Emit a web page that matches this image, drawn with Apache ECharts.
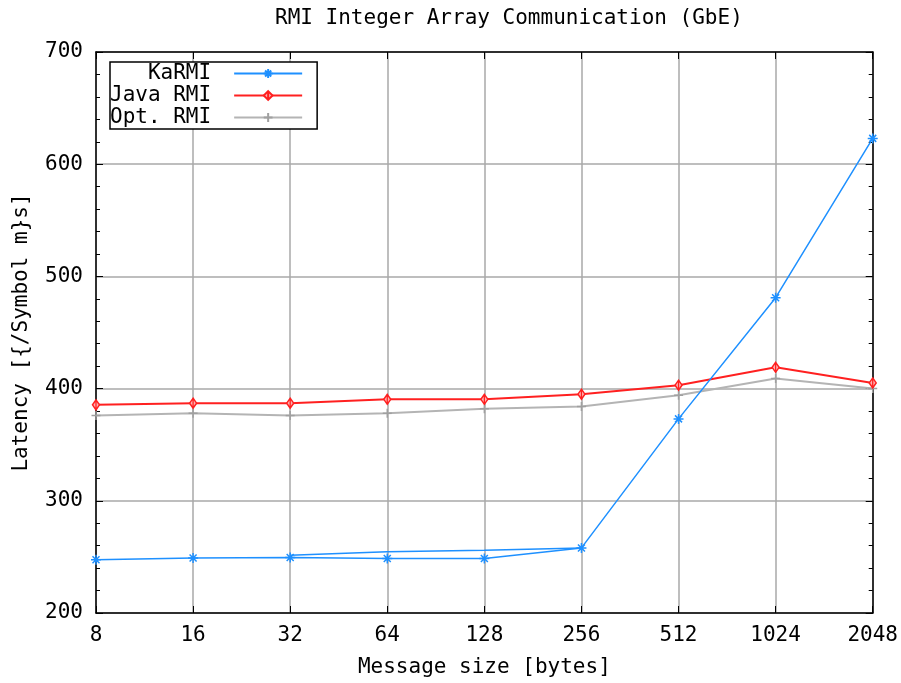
<!DOCTYPE html>
<html>
<head>
<meta charset="utf-8">
<script src="https://cdn.jsdelivr.net/npm/echarts@6/dist/echarts.min.js"></script>
<style>
  html, body { margin: 0; padding: 0; background: #fff; }
  #main { width: 901px; height: 683px; }
</style>
</head>
<body>
<div id="main"></div>
<script>
// message sizes (bytes)
const sizes = ['8', '16', '32', '64', '128', '256', '512', '1024', '2048'];
// latency values
const karmi = [247.5, 249, 249.5, 248.5, 248.5, 258, 373, 481, 623];
// second KaRMI trace (no markers) that runs slightly above between 32 and 256
const karmiUpper = [null, null, 251.5, 254.5, 256, 258, null, null, null];
const javaRmi = [385.5, 387, 387, 390.5, 390.5, 395, 403, 419, 405];
const optRmi = [376, 378, 376, 378, 382, 384, 394, 409, 400];

const font = 'DejaVu Sans Mono';
const fsize = 21;

const star = 'path://M0,5L10,5M5,0L5,10M1.5,1.5L8.5,8.5M8.5,1.5L1.5,8.5';
const diamond = 'path://M5,0L9,6L5,12L1,6ZM5,0L5,12';
const plus = 'path://M0,5L10,5M5,0L5,10';

let chart = echarts.init(document.getElementById('main'));
let option = {
  backgroundColor: '#fff',
  animation: false,
  title: {
    text: 'RMI Integer Array Communication (GbE)',
    left: 270,
    top: 3,
    textStyle: { fontFamily: font, fontSize: fsize, fontWeight: 'normal', color: '#000' }
  },
  legend: {
    data: ['KaRMI', 'Java RMI', 'Opt. RMI'],
    orient: 'vertical',
    left: 110,
    top: 62,
    align: 'right',
    padding: [1, 14, 1, 0],
    itemGap: 1,
    itemWidth: 68,
    itemHeight: 11,
    borderColor: '#000',
    borderWidth: 1.5,
    backgroundColor: '#fff',
    formatter: name => name.padStart(8, ' '),
    textStyle: { fontFamily: font, fontSize: fsize, color: '#000', padding: [0, 18, 0, 0] }
  },
  grid: { left: 96, right: 26, top: 52, bottom: 66 },
  xAxis: [{
    type: 'category',
    data: sizes,
    boundaryGap: false,
    name: 'Message size [bytes]',
    nameLocation: 'middle',
    nameGap: 44,
    nameTextStyle: { fontFamily: font, fontSize: fsize, color: '#000' },
    axisLine: { lineStyle: { color: '#000', width: 1.5 } },
    axisTick: { inside: true, length: 7, alignWithLabel: true, lineStyle: { color: '#000' } },
    axisLabel: { fontFamily: font, fontSize: fsize, color: '#000', margin: 12 },
    splitLine: { show: true, lineStyle: { color: '#a8a8a8', width: 1.5 } }
  }, {
    type: 'category',
    data: sizes,
    position: 'top',
    boundaryGap: false,
    axisLine: { lineStyle: { color: '#000', width: 1.5 } },
    axisTick: { inside: true, length: 7, lineStyle: { color: '#000' } },
    axisLabel: { show: false },
    splitLine: { show: false }
  }],
  yAxis: [{
    type: 'value',
    min: 200,
    max: 700,
    interval: 100,
    name: 'Latency [{/Symbol m}s]',
    nameLocation: 'middle',
    nameGap: 64,
    nameTextStyle: { fontFamily: font, fontSize: fsize, color: '#000' },
    axisLine: { show: true, lineStyle: { color: '#000', width: 1.5 } },
    axisTick: { show: true, inside: true, length: 7, lineStyle: { color: '#000' } },
    minorTick: { show: true, splitNumber: 5, length: 4, lineStyle: { color: '#000' } },
    axisLabel: { fontFamily: font, fontSize: fsize, color: '#000', margin: 13 },
    splitLine: { show: true, lineStyle: { color: '#a8a8a8', width: 1.5 } }
  }, {
    type: 'value',
    min: 200,
    max: 700,
    interval: 100,
    position: 'right',
    axisLine: { show: true, lineStyle: { color: '#000', width: 1.5 } },
    axisTick: { show: true, inside: true, length: 7, lineStyle: { color: '#000' } },
    minorTick: { show: true, splitNumber: 5, length: 4, lineStyle: { color: '#000' } },
    axisLabel: { show: false },
    splitLine: { show: false }
  }],
  series: [
    {
      name: 'KaRMI',
      type: 'line',
      data: karmi,
      symbol: star,
      symbolSize: 10,
      lineStyle: { color: '#1e90ff', width: 1.5 },
      itemStyle: { color: '#1e90ff', borderColor: '#1e90ff', borderWidth: 1.5 },
      z: 4
    },
    {
      name: 'KaRMI upper',
      type: 'line',
      data: karmiUpper,
      symbol: 'none',
      lineStyle: { color: '#1e90ff', width: 1.5 },
      z: 4
    },
    {
      name: 'Java RMI',
      type: 'line',
      data: javaRmi,
      symbol: diamond,
      symbolSize: [7, 10],
      lineStyle: { color: '#ff2020', width: 2 },
      itemStyle: { color: '#ffb0b0', borderColor: '#ff2020', borderWidth: 1.5 },
      z: 3
    },
    {
      name: 'Opt. RMI',
      type: 'line',
      data: optRmi,
      symbol: plus,
      symbolSize: 9,
      lineStyle: { color: '#b4b4b4', width: 2 },
      itemStyle: { color: '#b4b4b4', borderColor: '#a0a0a0', borderWidth: 1.5 },
      z: 2
    }
  ]
};
chart.setOption(option);
</script>
</body>
</html>
